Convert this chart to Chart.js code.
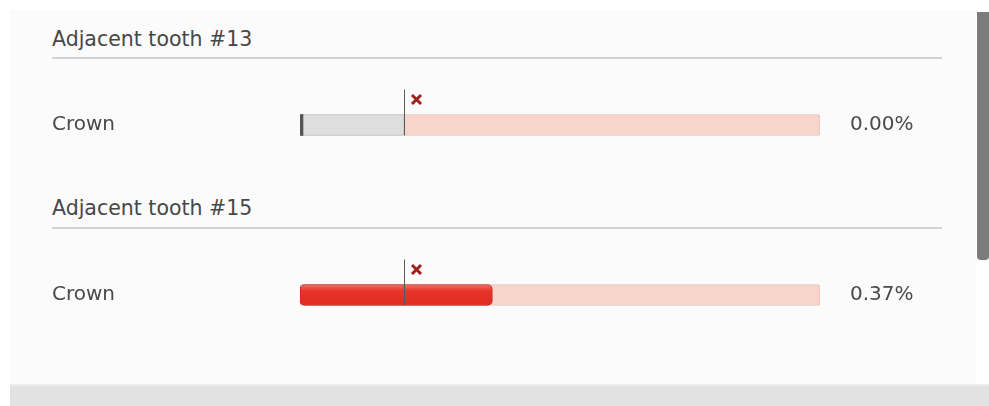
<!DOCTYPE html>
<html>
<head>
<meta charset="utf-8">
<script src="https://cdn.jsdelivr.net/npm/chart.js@4"></script>
<style>
  body { margin: 0; background: #fff; font-family: "DejaVu Sans", Verdana, sans-serif; }
  #page { position: relative; width: 989px; height: 406px; overflow: hidden; }
  .panel { position: absolute; left: 10px; top: 10px; width: 966px; height: 374px; background: #fbfbfb; }
  .footer { position: absolute; left: 10px; top: 384px; width: 979px; height: 22px; background: #e2e2e2; border-top: 2px solid #ededed; }
  .scroll { position: absolute; left: 977px; top: 12px; width: 12px; height: 248px; background: #7b7b7b; border-radius: 0 0 4px 4px; }
  .heading { position: absolute; left: 52px; font-size: 20.5px; color: #474747; white-space: nowrap; }
  .rule { position: absolute; left: 52px; width: 890px; height: 2px; background: #d2d2d2; }
  .box { position: absolute; left: 52px; width: 880px; height: 90px; }
</style>
</head>
<body>
<div id="page">
  <div class="panel"></div>
  <div class="scroll"></div>
  <div class="footer"></div>

  <div class="heading" id="h0" style="top:27px"></div>
  <div class="rule" style="top:57px"></div>
  <div class="box" style="top:80px"><canvas id="c0"></canvas></div>

  <div class="heading" id="h1" style="top:196px"></div>
  <div class="rule" style="top:227px"></div>
  <div class="box" style="top:250px"><canvas id="c1"></canvas></div>
</div>
<script>
// sections, part names and measured percentages
const sections = ['Adjacent tooth #13', 'Adjacent tooth #15'];
const parts = ['Crown'];
const values = [0.00, 0.37];
const threshold = 0.2;
const axisMax = 1.0;

const labelFont = { family: 'DejaVu Sans', size: 20 };

// tolerance line, red cross and percentage at the end of each row
const markers = {
  id: 'markers',
  afterDatasetsDraw(chart, args, opts) {
    const ctx = chart.ctx;
    const x = Math.round(chart.scales.x.getPixelForValue(threshold)) + 0.5;
    const bar = chart.getDatasetMeta(2).data[0];
    const top = bar.y - bar.height / 2;
    const bottom = bar.y + bar.height / 2;
    ctx.save();
    ctx.strokeStyle = '#5a5a5a';
    ctx.lineWidth = 1;
    ctx.beginPath();
    ctx.moveTo(x, top - 25);
    ctx.lineTo(x, bottom);
    ctx.stroke();

    const cx = x + 12, cy = top - 15, r = 4.5;
    ctx.strokeStyle = '#a3201a';
    ctx.lineWidth = 3;
    ctx.beginPath();
    ctx.moveTo(cx - r, cy - r); ctx.lineTo(cx + r, cy + r);
    ctx.moveTo(cx + r, cy - r); ctx.lineTo(cx - r, cy + r);
    ctx.stroke();

    ctx.fillStyle = '#4a4a4a';
    ctx.font = '20px "DejaVu Sans"';
    ctx.textBaseline = 'middle';
    ctx.textAlign = 'left';
    ctx.fillText(opts.value.toFixed(2) + '%', chart.chartArea.right + 30, bar.y);
    ctx.restore();
  }
};

// glossy red for rows above the tolerance
function redFill(context) {
  const area = context.chart.chartArea;
  if (!area) return '#e53a30';
  const cy = (area.top + area.bottom) / 2;
  const g = context.chart.ctx.createLinearGradient(0, cy - 11, 0, cy + 11);
  g.addColorStop(0, '#f37a70');
  g.addColorStop(0.3, '#e8352b');
  g.addColorStop(1, '#e02a22');
  return g;
}

function makeChart(id, i) {
  const v = values[i];
  const over = v > threshold;
  return new Chart(document.getElementById(id), {
    type: 'bar',
    data: {
      labels: parts,
      datasets: [
        {
          data: [v],
          order: 0,
          minBarLength: 3,
          backgroundColor: over ? redFill : '#555555',
          borderColor: over ? '#c0241c' : '#555555',
          borderWidth: over ? 1 : 0,
          borderRadius: over ? 5 : 0,
          borderSkipped: false
        },
        {
          data: [threshold],
          order: 1,
          backgroundColor: '#dedede',
          borderColor: '#c6c6c6',
          borderWidth: 1,
          borderRadius: 2,
          borderSkipped: false
        },
        {
          data: [axisMax],
          order: 2,
          backgroundColor: '#f7d5cb',
          borderColor: '#e2c1b8',
          borderWidth: 1,
          borderRadius: 3,
          borderSkipped: false
        }
      ]
    },
    options: {
      indexAxis: 'y',
      responsive: true,
      maintainAspectRatio: false,
      animation: false,
      grouped: false,
      barThickness: 21,
      layout: { padding: { right: 112, top: 0, bottom: 0 } },
      plugins: {
        legend: { display: false },
        tooltip: { enabled: false },
        markers: { value: v }
      },
      scales: {
        x: { min: 0, max: axisMax, display: false },
        y: {
          grid: { display: false },
          border: { display: false },
          ticks: { color: '#4a4a4a', font: labelFont, crossAlign: 'far', padding: 0 },
          afterFit(scale) { scale.width = 248; }
        }
      }
    },
    plugins: [markers]
  });
}

sections.forEach((s, i) => {
  document.getElementById('h' + i).textContent = s;
  makeChart('c' + i, i);
});
</script>
</body>
</html>
